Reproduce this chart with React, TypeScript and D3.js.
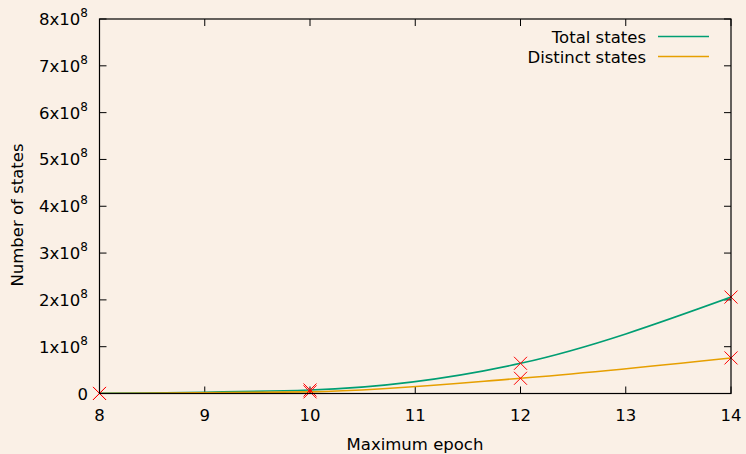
import React from 'react';
import * as d3 from 'd3';

// chart values
const epochs = [8, 10, 12, 14];
const totalStates = [0.2e6, 7.5e6, 64.5e6, 206e6];
const distinctStates = [0.1e6, 3.5e6, 32.5e6, 76e6];
const xTicks = [8, 9, 10, 11, 12, 13, 14];
const yTicks = [0, 1, 2, 3, 4, 5, 6, 7, 8];
const seriesNames = ['Total states', 'Distinct states'];
const seriesColors = ['#009e73', '#e69f00'];

const W = 746, H = 454;
const left = 99.5, right = 731, top = 19, bottom = 393.5;
const font = 'DejaVu Sans, sans-serif';
const fs = 16.5;

export default function App() {
  const x = d3.scaleLinear().domain([8, 14]).range([left, right]);
  const y = d3.scaleLinear().domain([0, 8e8]).range([bottom, top]);

  const series = [totalStates, distinctStates];
  const line = d3.line<number>()
    .x((d, i) => x(epochs[i]))
    .y(d => y(d))
    .curve(d3.curveMonotoneX);

  const cross = (cx: number, cy: number, key: string) => (
    <path key={key} d={`M${cx - 6.5},${cy - 6.5}L${cx + 6.5},${cy + 6.5}M${cx - 6.5},${cy + 6.5}L${cx + 6.5},${cy - 6.5}`}
      stroke="#ff0000" strokeWidth={1} fill="none" />
  );

  return (
    <svg width={W} height={H} style={{ position: 'absolute', left: 0, top: 0, background: '#faf0e6' }}
      fontFamily={font}>
      <rect x={0} y={0} width={W} height={H} fill="#faf0e6" />
      <defs>
        <clipPath id="plot"><rect x={left} y={top} width={right - left} height={bottom - top} /></clipPath>
      </defs>

      {/* ticks, inward and mirrored */}
      {xTicks.map(t => (
        <g key={'xt' + t}>
          <line x1={x(t)} x2={x(t)} y1={bottom} y2={bottom - 7} stroke="#000" strokeWidth={1} />
          <line x1={x(t)} x2={x(t)} y1={top} y2={top + 7} stroke="#000" strokeWidth={1} />
          <text x={x(t)} y={421} textAnchor="middle" fontSize={fs} fill="#000">{t}</text>
        </g>
      ))}
      {yTicks.map(t => (
        <g key={'yt' + t}>
          <line x1={left} x2={left + 7} y1={y(t * 1e8)} y2={y(t * 1e8)} stroke="#000" strokeWidth={1} />
          <line x1={right} x2={right - 7} y1={y(t * 1e8)} y2={y(t * 1e8)} stroke="#000" strokeWidth={1} />
          {t === 0 ? (
            <text x={88} y={y(0) + 6} textAnchor="end" fontSize={fs} fill="#000">0</text>
          ) : (
            <text x={88} y={y(t * 1e8) + 6} textAnchor="end" fontSize={fs} fill="#000">
              {t}x10<tspan fontSize={12} dy={-8}>8</tspan>
            </text>
          )}
        </g>
      ))}

      {/* curves */}
      <g clipPath="url(#plot)">
        {series.map((s, i) => (
          <path key={'c' + i} d={line(s) || ''} fill="none" stroke={seriesColors[i]} strokeWidth={1.6} />
        ))}
      </g>

      {/* data points */}
      {series.map((s, i) => s.map((v, j) => cross(x(epochs[j]), y(v), `p${i}-${j}`)))}

      {/* border */}
      <rect x={left} y={top} width={right - left} height={bottom - top} fill="none" stroke="#000" strokeWidth={1.2} />

      {/* legend */}
      {seriesNames.map((n, i) => (
        <g key={'lg' + i}>
          <text x={646} y={42.5 + i * 20} textAnchor="end" fontSize={fs} fill="#000">{n}</text>
          <line x1={658} x2={709} y1={36.5 + i * 20} y2={36.5 + i * 20} stroke={seriesColors[i]} strokeWidth={1.3} />
        </g>
      ))}

      {/* axis labels */}
      <text x={415} y={450} textAnchor="middle" fontSize={fs} fill="#000">Maximum epoch</text>
      <text transform="translate(23,215) rotate(-90)" textAnchor="middle" fontSize={fs} fill="#000">Number of states</text>
    </svg>
  );
}
